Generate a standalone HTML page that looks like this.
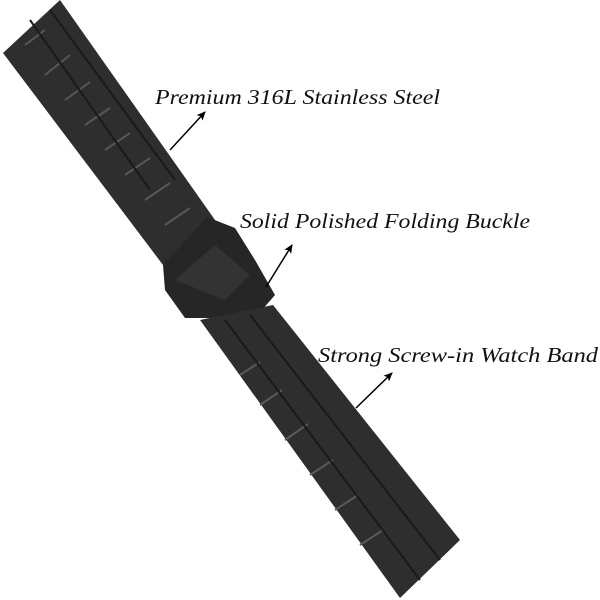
<!DOCTYPE html>
<html><head><meta charset="utf-8"><style>
html,body{margin:0;padding:0;background:#fff;}
svg{display:block}
text{font-family:"Liberation Serif",serif;font-style:italic;font-size:21px;fill:#111;}
</style></head><body>
<svg width="600" height="600" viewBox="0 0 600 600" xmlns="http://www.w3.org/2000/svg">
<defs>
<marker id="ah" markerWidth="10" markerHeight="10" refX="8" refY="5" orient="auto" markerUnits="userSpaceOnUse">
<path d="M0,1 L9,5 L0,9 L2,5 Z" fill="#000"/></marker>
</defs>
<!-- upper band -->
<polygon points="3,53 60,0 215,220 163,265" fill="#2e2e2e"/>
<g stroke="#575757" stroke-width="2">
<line x1="25" y1="45" x2="45" y2="30"/><line x1="45" y1="75" x2="70" y2="55"/>
<line x1="65" y1="100" x2="90" y2="82"/><line x1="85" y1="125" x2="110" y2="108"/>
<line x1="105" y1="150" x2="130" y2="133"/><line x1="125" y1="175" x2="150" y2="158"/>
<line x1="145" y1="200" x2="170" y2="183"/><line x1="165" y1="225" x2="190" y2="208"/>
</g>
<g stroke="#1a1a1a" stroke-width="2">
<line x1="30" y1="20" x2="150" y2="190"/><line x1="50" y1="10" x2="175" y2="180"/>
</g>
<!-- buckle -->
<polygon points="163,265 207,217 235,228 255,260 275,295 255,318 185,318 165,290" fill="#262626"/>
<polygon points="175,280 215,245 250,275 225,300" fill="#333"/>
<!-- lower band -->
<polygon points="200,320 273,305 460,540 400,598" fill="#2e2e2e"/>
<g stroke="#5a5a5a" stroke-width="2">
<line x1="260" y1="405" x2="282" y2="390"/><line x1="285" y1="440" x2="308" y2="424"/>
<line x1="310" y1="475" x2="333" y2="460"/><line x1="335" y1="510" x2="358" y2="495"/>
<line x1="360" y1="545" x2="383" y2="530"/><line x1="240" y1="375" x2="260" y2="362"/>
</g>
<g stroke="#1a1a1a" stroke-width="2">
<line x1="225" y1="320" x2="420" y2="580"/><line x1="250" y1="315" x2="440" y2="560"/>
</g>
<!-- arrows -->
<line x1="170" y1="150" x2="205" y2="112" stroke="#000" stroke-width="1.5" marker-end="url(#ah)"/>
<line x1="266" y1="287" x2="292" y2="245" stroke="#000" stroke-width="1.5" marker-end="url(#ah)"/>
<line x1="356" y1="408" x2="392" y2="373" stroke="#000" stroke-width="1.5" marker-end="url(#ah)"/>
<text x="155" y="104" textLength="285" lengthAdjust="spacingAndGlyphs">Premium 316L Stainless Steel</text>
<text x="240" y="228" textLength="290" lengthAdjust="spacingAndGlyphs">Solid Polished Folding Buckle</text>
<text x="318" y="362" textLength="280" lengthAdjust="spacingAndGlyphs">Strong Screw-in Watch Band</text>
</svg>
</body></html>
